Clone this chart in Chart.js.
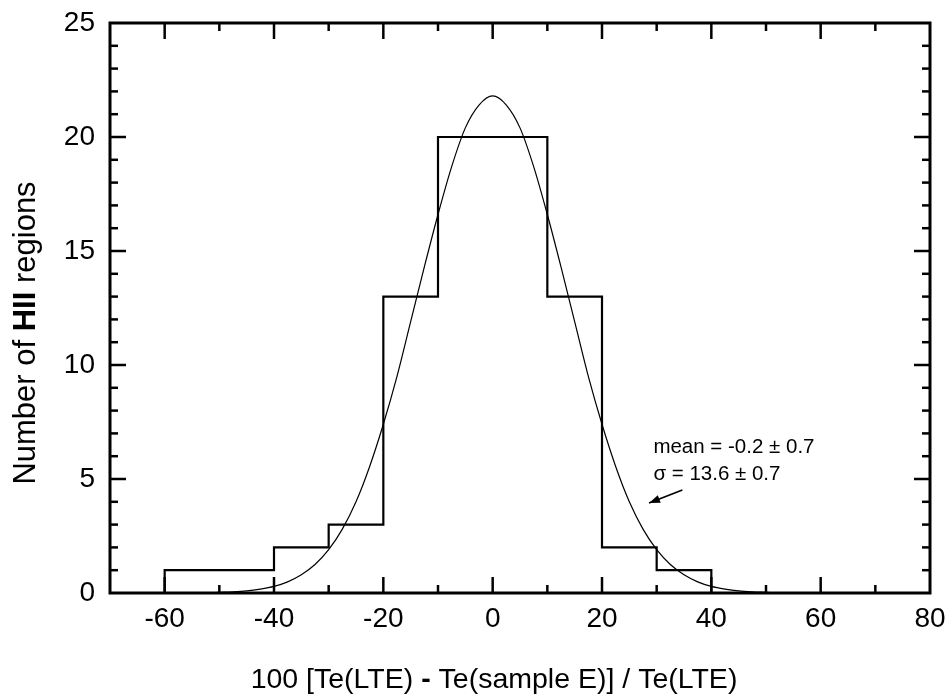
<!DOCTYPE html>
<html>
<head>
<meta charset="utf-8">
<script src="https://cdn.jsdelivr.net/npm/chart.js@4.4.1/dist/chart.umd.min.js"></script>
<style>
  html, body { margin: 0; padding: 0; background: #fff; }
  #wrap { width: 951px; height: 700px; position: relative; }
</style>
</head>
<body>
<div id="wrap"><canvas id="histChart"></canvas></div>
<script>
const FONT = '"Liberation Sans", Arial, Helvetica, sans-serif';

// ----------------- Data -----------------
// histogram bins (edges) and counts per bin
const binEdges = [-60, -40, -30, -20, -10, 10, 20, 30, 40];
const binCounts = [1, 2, 3, 13, 20, 13, 2, 1];

// gaussian fit
const fitX = [-60, -57.5, -55, -52.5, -50, -47.5, -45, -42.5, -40, -37.5, -35, -32.5, -30, -27.5, -25, -22.5,
  -20, -17.5, -15, -12.5, -10, -7.5, -5, -2.5, 0, 2.5, 5, 7.5, 10, 12.5, 15, 17.5, 20, 22.5, 25, 27.5, 30,
  32.5, 35, 37.5, 40, 42.5, 45, 47.5, 50, 52.5, 55, 57.5, 60];
const fitY = [0, 0, 0.01, 0.01, 0.03, 0.05, 0.09, 0.17, 0.29, 0.49, 0.8, 1.25, 1.9, 2.8, 4.0, 5.55,
  7.4, 9.5, 11.9, 14.3, 16.6, 18.7, 20.4, 21.4, 21.8, 21.4, 20.4, 18.7, 16.6, 14.3, 11.9, 9.5, 7.4, 5.55, 4.0, 2.8, 1.9,
  1.25, 0.8, 0.49, 0.29, 0.17, 0.09, 0.05, 0.03, 0.01, 0.01, 0, 0];

// axes
const xTickValues = [-60, -40, -20, 0, 20, 40, 60, 80];
const yTickValues = [0, 5, 10, 15, 20, 25];
const xRange = [-70, 80];
const yRange = [0, 25];

// texts ([text, bold])
const xTitleParts = [["100 [Te(LTE) ", false], ["-", true], [" Te(sample E)] / Te(LTE)", false]];
const yTitleParts = [["Number of ", false], ["HII", true], [" regions", false]];
const fitLabel = ["mean = -0.2 \u00b1 0.7", "\u03c3 = 13.6 \u00b1 0.7"];

// ----------------- Helpers -----------------
function histPoints() {
  const pts = [{ x: binEdges[0], y: 0 }];
  binCounts.forEach((c, i) => pts.push({ x: binEdges[i], y: c }));
  pts.push({ x: binEdges[binEdges.length - 1], y: 0 });
  return pts;
}

function drawParts(ctx, parts, size) {
  const fonts = parts.map(p => (p[1] ? "bold " : "") + size + "px " + FONT);
  const widths = parts.map((p, i) => { ctx.font = fonts[i]; return ctx.measureText(p[0]).width; });
  let cx = -widths.reduce((s, w) => s + w, 0) / 2;
  parts.forEach((p, i) => {
    ctx.font = fonts[i];
    ctx.fillText(p[0], cx, 0);
    cx += widths[i];
  });
}

function line(ctx, x1, y1, x2, y2) {
  ctx.beginPath();
  ctx.moveTo(x1, y1);
  ctx.lineTo(x2, y2);
  ctx.stroke();
}

// ----------------- Frame, ticks, titles -----------------
const framePlugin = {
  id: "frame",
  afterDraw(chart) {
    const { ctx, chartArea: a, scales: { x, y } } = chart;
    ctx.save();
    ctx.strokeStyle = "#000";
    ctx.fillStyle = "#000";
    ctx.lineCap = "butt";

    // inward ticks on all four sides
    ctx.lineWidth = 2.5;
    for (let v = xRange[0] + 10; v < xRange[1]; v += 10) {
      const len = xTickValues.includes(v) ? 16 : 8;
      const px = x.getPixelForValue(v);
      line(ctx, px, a.bottom, px, a.bottom - len);
      line(ctx, px, a.top, px, a.top + len);
    }
    for (let v = yRange[0] + 1; v < yRange[1]; v += 1) {
      const len = yTickValues.includes(v) ? 16 : 8;
      const py = y.getPixelForValue(v);
      line(ctx, a.left, py, a.left + len, py);
      line(ctx, a.right, py, a.right - len, py);
    }

    ctx.lineWidth = 3;
    ctx.strokeRect(a.left, a.top, a.right - a.left, a.bottom - a.top);

    // axis titles
    ctx.textBaseline = "alphabetic";
    ctx.textAlign = "left";
    ctx.save();
    ctx.translate(494, 688);
    drawParts(ctx, xTitleParts, 28.5);
    ctx.restore();

    ctx.save();
    ctx.translate(35, 333);
    ctx.rotate(-Math.PI / 2);
    drawParts(ctx, yTitleParts, 31);
    ctx.restore();

    // fit label + arrow
    ctx.font = "20.5px " + FONT;
    const lx = x.getPixelForValue(29.4);
    const ly = y.getPixelForValue(6.14);
    fitLabel.forEach((t, i) => ctx.fillText(t, lx, ly + i * 27));

    const ax1 = x.getPixelForValue(34.7), ay1 = y.getPixelForValue(4.52);
    const ax2 = x.getPixelForValue(28.6), ay2 = y.getPixelForValue(3.95);
    ctx.lineWidth = 1.6;
    line(ctx, ax1, ay1, ax2, ay2);
    const ang = Math.atan2(ay2 - ay1, ax2 - ax1);
    ctx.beginPath();
    ctx.moveTo(ax2, ay2);
    ctx.lineTo(ax2 - 11 * Math.cos(ang) + 4 * Math.sin(ang), ay2 - 11 * Math.sin(ang) - 4 * Math.cos(ang));
    ctx.lineTo(ax2 - 11 * Math.cos(ang) - 4 * Math.sin(ang), ay2 - 11 * Math.sin(ang) + 4 * Math.cos(ang));
    ctx.closePath();
    ctx.fill();

    ctx.restore();
  }
};

// ----------------- Chart -----------------
const ctx = document.getElementById("histChart").getContext("2d");
new Chart(ctx, {
  type: "line",
  data: {
    datasets: [
      {
        label: "histogram",
        data: histPoints(),
        stepped: true,
        borderColor: "#000",
        borderWidth: 2.2,
        pointRadius: 0,
        fill: false
      },
      {
        label: "gaussian fit",
        data: fitX.map((v, i) => ({ x: v, y: fitY[i] })),
        borderColor: "#000",
        borderWidth: 1.2,
        pointRadius: 0,
        cubicInterpolationMode: "monotone",
        fill: false
      }
    ]
  },
  options: {
    responsive: true,
    maintainAspectRatio: false,
    animation: false,
    layout: { padding: { top: 23, right: 21, left: 0, bottom: 0 } },
    plugins: { legend: { display: false }, tooltip: { enabled: false } },
    scales: {
      x: {
        type: "linear",
        min: xRange[0],
        max: xRange[1],
        afterBuildTicks: s => { s.ticks = xTickValues.map(v => ({ value: v })); },
        afterFit: s => { s.height = 107; s.paddingLeft = 0; s.paddingRight = 0; },
        grid: { display: false, drawTicks: false },
        border: { display: false },
        ticks: { color: "#000", font: { family: FONT, size: 28 }, padding: 9, maxRotation: 0 }
      },
      y: {
        type: "linear",
        min: yRange[0],
        max: yRange[1],
        afterBuildTicks: s => { s.ticks = yTickValues.map(v => ({ value: v })); },
        afterFit: s => { s.width = 110; s.paddingTop = 0; s.paddingBottom = 0; },
        grid: { display: false, drawTicks: false },
        border: { display: false },
        ticks: { color: "#000", font: { family: FONT, size: 28 }, padding: 15 }
      }
    }
  },
  plugins: [framePlugin]
});
</script>
</body>
</html>
